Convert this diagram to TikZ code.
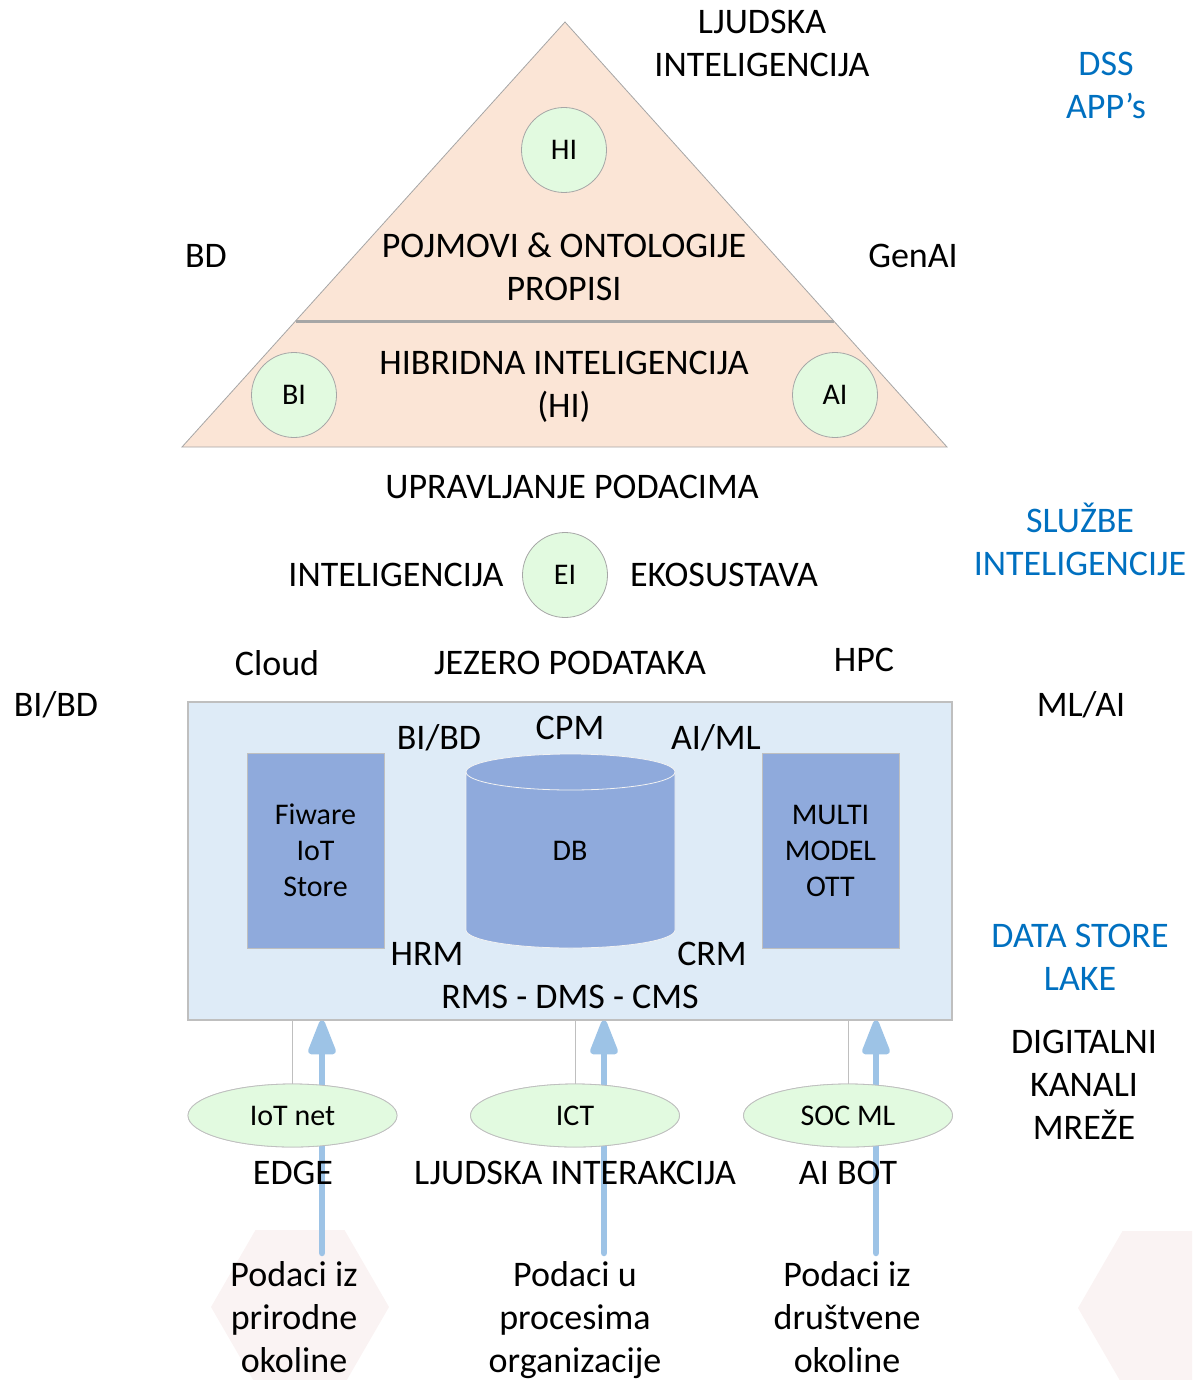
\documentclass[tikz,border=0pt]{standalone}
\usepackage{fontspec}
\setmainfont{Carlito}
\usetikzlibrary{arrows.meta,shapes.geometric}
\definecolor{peach}{HTML}{FBE5D6}
\definecolor{circgreen}{HTML}{E2FAE0}
\definecolor{boxblue}{HTML}{DEEBF7}
\definecolor{darkblue}{HTML}{8FAADC}
\definecolor{arrowblue}{HTML}{9DC3E6}
\definecolor{linegray}{HTML}{A6A6A6}
\definecolor{lightgray}{HTML}{BFBFBF}
\definecolor{offblue}{HTML}{0070C0}
\definecolor{hexpink}{HTML}{FAF3F3}
\begin{document}
\begin{tikzpicture}[x=1pt,y=-1pt,
  big/.style={font=\fontsize{36}{43}\selectfont, align=center, inner sep=0pt},
  small/.style={font=\fontsize{30}{36}\selectfont, align=center, inner sep=0pt},
  bluetxt/.style={big, text=offblue},
  circ/.style={circle, draw=linegray, line width=0.8pt, fill=circgreen, minimum size=85, inner sep=0pt, small},
  oval/.style={ellipse, draw=lightgray, line width=0.8pt, fill=circgreen, minimum width=209, minimum height=63, inner sep=0pt, small},
  store/.style={rectangle, draw=lightgray, line width=1pt, fill=darkblue, minimum width=137, minimum height=195, inner sep=0pt, small},
  up/.style={draw=arrowblue, line width=6.5pt, line cap=round, -{Triangle[length=40pt,width=29pt,round=false]}},
  hex/.style={fill=hexpink},
  thin/.style={draw=lightgray, line width=1pt}]
\useasboundingbox (0,0) rectangle (1192,1380);
% background hexagons
\begin{scope}
\clip (0,0) rectangle (1192,1380);
\fill[hex] (211,1307) -- (255.5,1230) -- (344.5,1230) -- (389,1307) -- (344.5,1384) -- (255.5,1384) -- cycle;
\fill[hex] (1078,1308) -- (1122.5,1231) -- (1211.5,1231) -- (1256,1308) -- (1211.5,1385) -- (1122.5,1385) -- cycle;
\end{scope}
% pyramid
\coordinate (apex) at (565,22);
\coordinate (bl) at (182,447);
\coordinate (br) at (947,447);
\filldraw[fill=peach, draw=linegray, line width=0.8pt] (apex) -- (br) -- (bl) -- cycle;
\coordinate (dl) at (295.5,321);
\coordinate (dr) at (833.7,321);
\draw[linegray, line width=3pt] (dl) -- (dr);
\node[circ] (hi) at (564,150) {HI};
\node[circ] (bi) at (294,395) {BI};
\node[circ] (ai) at (835,395) {AI};
\node[big] (pojmovi) at (564,266.5) {POJMOVI \& ONTOLOGIJE\\PROPISI};
\node[big] (hibrid) at (564,386.5) {HIBRIDNA INTELIGENCIJA\\(HI)};
\node[big] (ljudska) at (762,43.5) {LJUDSKA\\INTELIGENCIJA};
\node[bluetxt] (dss) at (1106,85.5) {DSS\\APP’s};
\node[big] (bd) at (206,256) {BD};
\node[big] (genai) at (913,256) {GenAI};
% middle
\node[big] (upr) at (572,487) {UPRAVLJANJE PODACIMA};
\node[bluetxt] (sluzbe) at (1080,539.5) {SLUŽBE\\INTELIGENCIJE};
\node[circ] (ei) at (565,575) {EI};
\node[big] (intel) at (396,575) {INTELIGENCIJA};
\node[big] (eko) at (724,575) {EKOSUSTAVA};
\node[big] (cloud) at (277,663) {Cloud};
\node[big] (jezero) at (570,663) {JEZERO PODATAKA};
\node[big] (hpc) at (864,660) {HPC};
\node[big] (bibdout) at (56,705) {BI/BD};
\node[big] (mlai) at (1081,705) {ML/AI};
% data lake box
\node[rectangle, draw=lightgray, line width=1.2pt, fill=boxblue, minimum width=764, minimum height=318, inner sep=0pt] (lake) at (570,861) {};
\node[big] (bibd) at (439,738) {BI/BD};
\node[big] (cpm) at (570,728) {CPM};
\node[big] (aiml) at (716,738) {AI/ML};
\node[store] (fiware) at (315.5,850.5) {Fiware\\IoT\\Store};
\node[store] (multi) at (830.5,850.5) {MULTI\\MODEL\\OTT};
% cylinder
\filldraw[fill=darkblue, draw=white!80!lightgray, line width=0.8pt]
  (466,772) -- (466,930) arc[start angle=180, end angle=0, x radius=104.5, y radius=18]
  -- (675,772) arc[start angle=0, end angle=-180, x radius=104.5, y radius=18] -- cycle;
\draw[white!80!lightgray, line width=0.8pt] (466,772) arc[start angle=180, end angle=0, x radius=104.5, y radius=18];
\node[small] (db) at (570,851) {DB};
\node[big] (hrm) at (427,954) {HRM};
\node[big] (crm) at (712,954) {CRM};
\node[big] (rms) at (570,997) {RMS - DMS - CMS};
\node[bluetxt] (dsl) at (1080,957.5) {DATA STORE\\LAKE};
\node[big] (digit) at (1084,1085) {DIGITALNI\\KANALI\\MREŽE};
% channels
\node[oval] (iot) at (292.5,1115.5) {IoT net};
\node[oval] (ict) at (575,1115.5) {ICT};
\node[oval] (soc) at (848,1115.5) {SOC ML};
\draw[thin] (iot.north) -- (iot.north |- lake.south);
\draw[thin] (ict.north) -- (ict.north |- lake.south);
\draw[thin] (soc.north) -- (soc.north |- lake.south);
% sources
\node[big] (src1) at (294,1317) {Podaci iz\\prirodne\\okoline};
\node[big] (src2) at (575,1320) {Podaci u\\procesima\\organizacije};
\node[big] (src3) at (847,1317) {Podaci iz\\društvene\\okoline};
\coordinate (s1) at (322,1253);
\coordinate (s2) at (604,1253);
\coordinate (s3) at (876,1253);
\draw[up] (s1) -- (s1 |- lake.south);
\draw[up] (s2) -- (s2 |- lake.south);
\draw[up] (s3) -- (s3 |- lake.south);
% redraw ovals over arrows
\node[oval] at (iot) {IoT net};
\node[oval] at (ict) {ICT};
\node[oval] at (soc) {SOC ML};
\node[big] (edge) at (293,1173) {EDGE};
\node[big] (inter) at (575,1173) {LJUDSKA INTERAKCIJA};
\node[big] (aibot) at (848,1173) {AI BOT};
\end{tikzpicture}
\end{document}
